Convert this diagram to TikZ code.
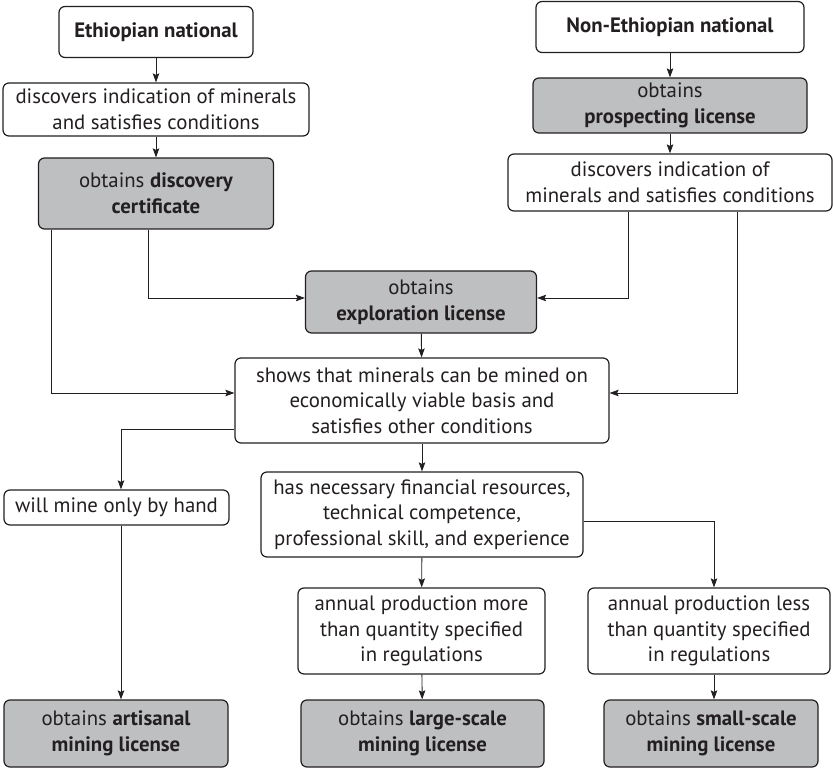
\documentclass[tikz,border=0pt]{standalone}
\usepackage{fontspec}
\setmainfont{PT Sans}
\usetikzlibrary{arrows.meta,positioning,calc}
\definecolor{licgray}{RGB}{190,191,193}
\definecolor{ink}{RGB}{35,31,32}

\begin{document}
\begin{tikzpicture}[
  x=1pt, y=-1pt,
  font=\fontsize{20.8}{25.5}\selectfont,
  box/.style={draw=ink, line width=1.2pt, rounded corners=6pt, align=center,
    inner sep=1pt, fill=white, text=ink},
  lic/.style={box, fill=licgray},
  arr/.style={-{Stealth[length=9pt, width=6.5pt, inset=1.5pt]}, line width=0.9pt, draw=ink}
]
\useasboundingbox (0,0) rectangle (833,770);

% Ethiopian national
\node[box, minimum width=194pt, minimum height=51pt] (eth) at (156,32) {\textbf{Ethiopian national}};
\node[box, minimum width=306pt, minimum height=53pt] (disc1) at (156,109.5)
  {discovers indication of minerals\\ and satisfies conditions};
\node[lic, minimum width=235pt, minimum height=71pt] (cert) at (156,193.5)
  {obtains \textbf{discovery}\\ \textbf{certificate}};

% Non-Ethiopian national
\node[box, minimum width=268pt, minimum height=51pt] (neth) at (670,27) {\textbf{Non-Ethiopian national}};
\node[lic, minimum width=274pt, minimum height=55pt] (prosp) at (670,105.5)
  {obtains\\ \textbf{prospecting license}};
\node[box, minimum width=324pt, minimum height=57pt] (disc2) at (670,182.5)
  {discovers indication of\\ minerals and satisfies conditions};

% common path
\node[lic, minimum width=231pt, minimum height=62pt] (expl) at (421,302)
  {obtains\\ \textbf{exploration license}};
\node[box, minimum width=374pt, minimum height=85pt] (shows) at (422,400.5)
  {shows that minerals can be mined on\\ economically viable basis and\\ satisfies other conditions};
\node[box, minimum width=225pt, minimum height=35pt] (hand) at (116.5,507.5) {will mine only by hand};
\node[box, minimum width=322pt, minimum height=85pt] (has) at (422,514.5)
  {has necessary financial resources,\\ technical competence,\\ professional skill, and experience};
\node[box, minimum width=247pt, minimum height=86pt] (more) at (421.5,631)
  {annual production more\\ than quantity specified\\ in regulations};
\node[box, minimum width=242pt, minimum height=86pt] (less) at (709,631)
  {annual production less\\ than quantity specified\\ in regulations};

% licenses
\node[lic, minimum width=224pt, minimum height=67pt] (art) at (116,733.5)
  {obtains \textbf{artisanal}\\ \textbf{mining license}};
\node[lic, minimum width=243pt, minimum height=67pt] (large) at (422.5,733.5)
  {obtains \textbf{large-scale}\\ \textbf{mining license}};
\node[lic, minimum width=214pt, minimum height=67pt] (small) at (711,733.5)
  {obtains \textbf{small-scale}\\ \textbf{mining license}};

\draw[arr] (eth) -- (disc1);
\draw[arr] (disc1) -- (cert);
\draw[arr] (neth) -- (prosp);
\draw[arr] (prosp) -- (disc2);
\draw[arr] ([xshift=-8pt]cert.south) |- ([yshift=4pt]expl.west);
\draw[arr] ([xshift=-105pt]cert.south) |- ([yshift=7.5pt]shows.west);
\draw[arr] ([xshift=-42pt]disc2.south) |- ([yshift=4pt]expl.east);
\draw[arr] ([xshift=67pt]disc2.south) |- ([yshift=7.5pt]shows.east);
\draw[arr] (expl) -- (shows);
\draw[arr] ([yshift=-28.5pt]shows.west) -| ([xshift=4.5pt]hand.north);
\draw[arr] (shows) -- (has);
\draw[arr] ([yshift=-6.5pt]has.east) -| ([xshift=5pt]less.north);
\draw[arr] (has) -- (more);
\draw[arr] ([xshift=4.5pt]hand.south) -- ([xshift=5pt]art.north);
\draw[arr] (more) -- (large);
\draw[arr] ([xshift=5pt]less.south) -- ([xshift=3pt]small.north);

\end{tikzpicture}
\end{document}
